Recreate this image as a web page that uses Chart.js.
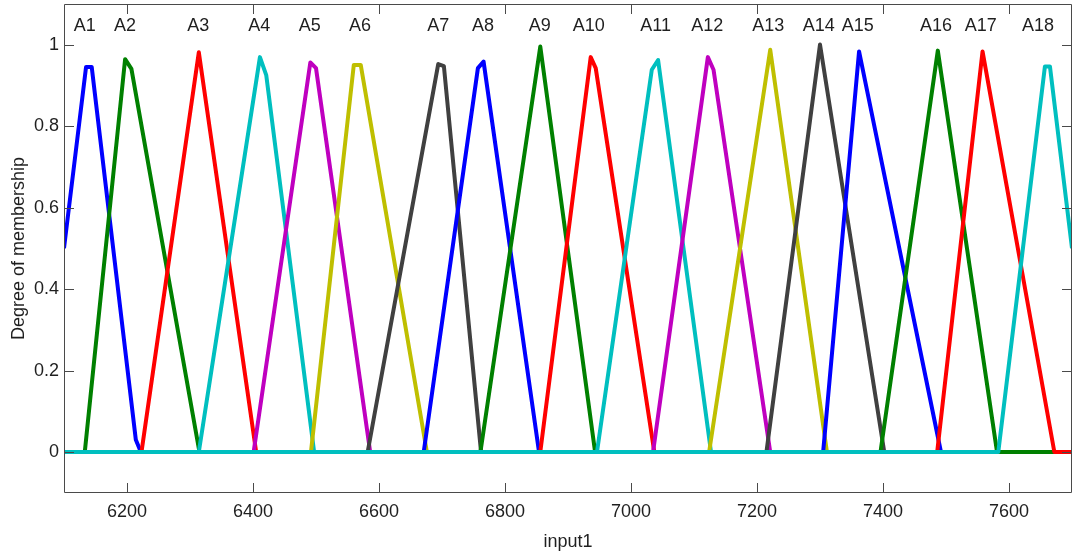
<!DOCTYPE html>
<html><head><meta charset="utf-8">
<script src="https://cdn.jsdelivr.net/npm/chart.js@4.4.0/dist/chart.umd.min.js"></script>
<style>html,body{margin:0;padding:0;background:#fff}#wrap{width:1078px;height:553px}</style>
</head><body><div id="wrap"><canvas id="c" width="1078" height="553"></canvas></div>
<script>
const xTicks = [6200, 6400, 6600, 6800, 7000, 7200, 7400, 7600];
const yTicks = [0, 0.2, 0.4, 0.6, 0.8, 1];
const yTickLabels = ['0', '0.2', '0.4', '0.6', '0.8', '1'];
const mfNames = ['A1','A2','A3','A4','A5','A6','A7','A8','A9','A10','A11','A12','A13','A14','A15','A16','A17','A18'];
const mfColors = ['#0000ff','#008000','#ff0000','#00bfbf','#bf00bf','#bfbf00','#404040',
                  '#0000ff','#008000','#ff0000','#00bfbf','#bf00bf','#bfbf00','#404040',
                  '#0000ff','#008000','#ff0000','#00bfbf'];
const labelX = [6133,6197,6313,6410,6490,6570,6694,6765,6855,6933,7039,7121,7218,7298,7360,7484,7555,7646];
const labelY = 1.045;

const mfA1  = [[6100,0.5],[6135,0.945],[6144,0.945],[6214,0.03],[6222,0],[7700,0]];
const mfA2  = [[6100,0],[6133,0],[6197,0.964],[6207,0.94],[6315,0],[7700,0]];
const mfA3  = [[6100,0],[6223,0],[6314,0.981],[6405,0],[7700,0]];
const mfA4  = [[6100,0],[6314,0],[6411,0.969],[6421,0.925],[6497,0],[7700,0]];
const mfA5  = [[6100,0],[6401,0],[6491,0.956],[6500,0.942],[6586,0],[7700,0]];
const mfA6  = [[6100,0],[6492,0],[6560,0.95],[6571,0.95],[6676,0],[7700,0]];
const mfA7  = [[6100,0],[6582,0],[6694,0.952],[6703,0.947],[6762,0],[7700,0]];
const mfA8  = [[6100,0],[6671,0],[6757,0.942],[6766,0.958],[6854,0],[7700,0]];
const mfA9  = [[6100,0],[6761,0],[6856,0.995],[6943,0],[7700,0]];
const mfA10 = [[6100,0],[6856,0],[6936,0.969],[6944,0.942],[7037,0],[7700,0]];
const mfA11 = [[6100,0],[6946,0],[7033,0.938],[7043,0.962],[7127,0],[7700,0]];
const mfA12 = [[6100,0],[7035,0],[7122,0.969],[7131,0.938],[7221,0],[7700,0]];
const mfA13 = [[6100,0],[7124,0],[7221,0.987],[7311,0],[7700,0]];
const mfA14 = [[6100,0],[7215,0],[7300,1.0],[7402,0],[7700,0]];
const mfA15 = [[6100,0],[7305,0],[7362,0.983],[7492,0],[7700,0]];
const mfA16 = [[6100,0],[7396,0],[7487,0.985],[7581,0],[7700,0]];
const mfA17 = [[6100,0],[7486,0],[7558,0.983],[7672,0],[7700,0]];
const mfA18 = [[6100,0],[7583,0],[7657,0.946],[7665,0.946],[7700,0.5]];

const mfData = [mfA1,mfA2,mfA3,mfA4,mfA5,mfA6,mfA7,mfA8,mfA9,mfA10,mfA11,mfA12,mfA13,mfA14,mfA15,mfA16,mfA17,mfA18];

const FONT = {family: "'Liberation Sans', Arial, sans-serif", size: 18};
const TXT = '#1f1f1f';

const boxPlugin = {
  id: 'boxPlugin',
  beforeDatasetsDraw(chart) {
    // snap the zero line to whole pixels so the shared baseline renders crisply
    const y0 = chart.scales.y.getPixelForValue(0);
    chart.ctx.save();
    chart.ctx.translate(0, Math.round(y0) - y0);
  },
  afterDatasetsDraw(chart) {
    const {ctx, chartArea: a, scales} = chart;
    ctx.restore();
    ctx.save();
    ctx.strokeStyle = '#4a4a4a';
    ctx.lineWidth = 1;
    ctx.beginPath();
    ctx.rect(a.left + 0.5, a.top + 0.5, a.right - a.left - 1, a.bottom - a.top - 1);
    ctx.stroke();
    const tl = 10;
    ctx.beginPath();
    xTicks.forEach(v => {
      const px = Math.round(scales.x.getPixelForValue(v)) + 0.5;
      ctx.moveTo(px, a.bottom); ctx.lineTo(px, a.bottom - tl);
      ctx.moveTo(px, a.top); ctx.lineTo(px, a.top + tl);
    });
    yTicks.forEach(v => {
      const py = Math.round(scales.y.getPixelForValue(v)) + 0.5;
      ctx.moveTo(a.left, py); ctx.lineTo(a.left + tl, py);
      ctx.moveTo(a.right, py); ctx.lineTo(a.right - tl, py);
    });
    ctx.stroke();
    ctx.fillStyle = TXT;
    ctx.font = FONT.size + 'px ' + FONT.family;
    ctx.textAlign = 'center';
    ctx.textBaseline = 'middle';
    mfNames.forEach((n, i) => {
      ctx.fillText(n, scales.x.getPixelForValue(labelX[i]), scales.y.getPixelForValue(labelY));
    });
    ctx.restore();
  }
};

new Chart(document.getElementById('c'), {
  type: 'scatter',
  data: {
    datasets: mfData.map((pts, i) => ({
      label: mfNames[i],
      data: pts.map(p => ({x: p[0], y: p[1]})),
      borderColor: mfColors[i],
      backgroundColor: mfColors[i],
      borderWidth: 4,
      showLine: true,
      pointRadius: 0,
      fill: false,
      tension: 0,
      borderJoinStyle: 'round',
      borderCapStyle: 'butt',
      order: mfData.length - i
    }))
  },
  options: {
    responsive: false,
    animation: false,
    devicePixelRatio: 1,
    layout: {padding: {top: 4, right: 6, left: 0, bottom: 0}},
    plugins: {legend: {display: false}, tooltip: {enabled: false}},
    scales: {
      x: {
        type: 'linear', min: 6100, max: 7700,
        afterBuildTicks: s => { s.ticks = xTicks.map(v => ({value: v})); },
        afterFit: s => { s.height = 60; s.paddingLeft = 0; s.paddingRight = 0; },
        grid: {display: false, drawTicks: false},
        border: {display: false},
        ticks: {font: FONT, color: TXT, padding: 8, maxRotation: 0, autoSkip: false,
                callback: v => String(v)},
        title: {display: true, text: 'input1', font: FONT, color: TXT, padding: 0}
      },
      y: {
        type: 'linear', min: -0.1, max: 1.1,
        afterBuildTicks: s => { s.ticks = yTicks.map(v => ({value: v})); },
        afterFit: s => { s.width = 64; s.paddingTop = 0; s.paddingBottom = 0; },
        grid: {display: false, drawTicks: false},
        border: {display: false},
        ticks: {font: FONT, color: TXT, padding: 5,
                callback: (v) => { const k = yTicks.indexOf(v); return k >= 0 ? yTickLabels[k] : ''; }},
        title: {display: true, text: 'Degree of membership', font: FONT, color: TXT, padding: {top: 8, bottom: 8}}
      }
    }
  },
  plugins: [boxPlugin]
});
</script></body></html>
